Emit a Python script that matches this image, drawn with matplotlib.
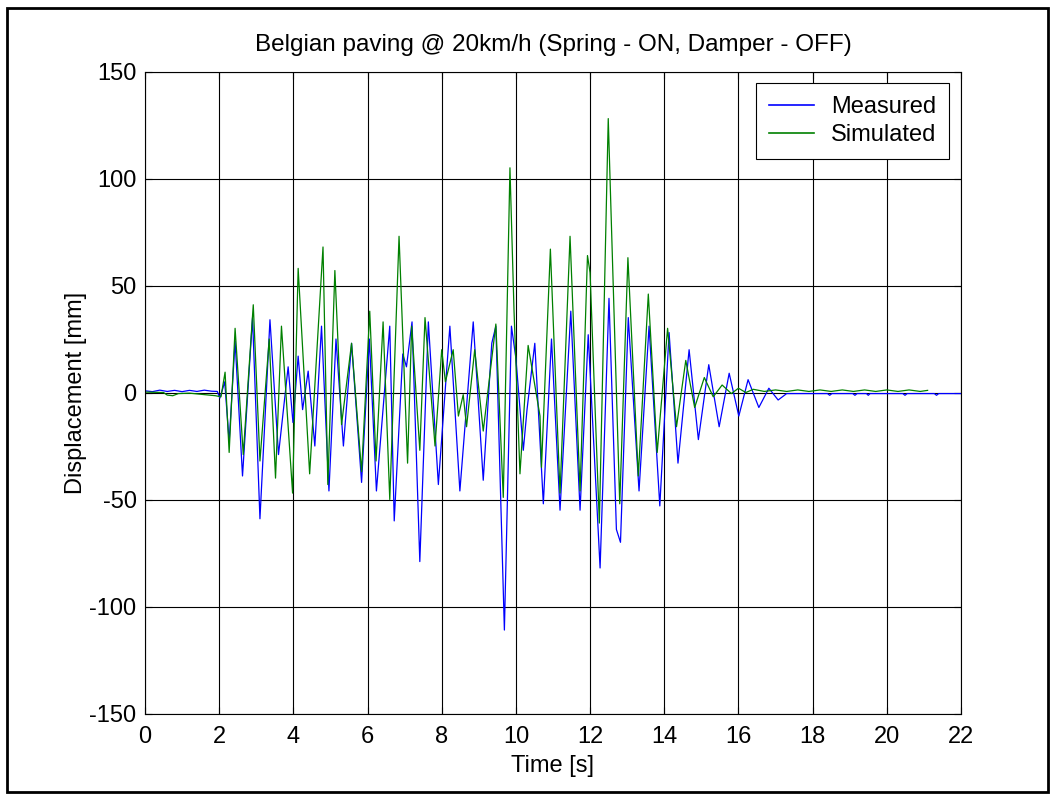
import matplotlib
matplotlib.use("Agg")
import matplotlib.pyplot as plt
from matplotlib.patches import Rectangle

plt.rcParams['font.family'] = ['Liberation Sans', 'DejaVu Sans']
plt.rcParams['font.size'] = 17
plt.rcParams['axes.unicode_minus'] = False

# turning points: time [s], displacement [mm]
t_meas = [0.0, 0.2, 0.4, 0.6, 0.8, 1.0, 1.2, 1.4, 1.6, 1.8, 1.95,
          2.02, 2.1, 2.15, 2.27, 2.43, 2.63, 2.90, 3.10, 3.37, 3.60, 3.86,
          3.99, 4.13, 4.25, 4.40, 4.58, 4.76, 4.96, 5.15, 5.35, 5.57, 5.84,
          6.05, 6.24, 6.60, 6.72, 6.95, 7.05, 7.20, 7.41, 7.64, 7.91, 8.22,
          8.49, 8.85, 9.12, 9.35, 9.46, 9.69, 9.88, 10.0, 10.2, 10.3, 10.51,
          10.74, 10.96, 11.19, 11.48, 11.73, 11.95, 12.27, 12.51, 12.71,
          12.82, 13.03, 13.32, 13.59, 13.88, 14.13, 14.37, 14.67, 14.92,
          15.2, 15.48, 15.75, 16.01, 16.26, 16.55, 16.82, 17.07, 17.3,
          18.4, 18.46, 18.52, 19.08, 19.14, 19.2, 19.45, 19.5, 19.55,
          20.43, 20.49, 20.55, 21.28, 21.34, 21.4, 22.0]
v_meas = [0.8, 0.4, 1.1, 0.5, 1.0, 0.4, 1.0, 0.5, 1.1, 0.6, 0.5,
          -2.6, 2.0, 5.0, -23, 24, -39, 35, -59, 34, -29, 12,
          -14, 17, -8, 10, -25, 31, -46, 25, -25, 23, -42,
          25, -46, 31, -60, 18, 12, 33, -79, 33, -43, 31,
          -46, 33, -41, 23, 31, -111, 31, 16, -27, -8, 23,
          -52, 25, -55, 38, -55, 27, -82, 44, -64,
          -70, 35, -46, 31, -53, 28, -33, 20, -22,
          13, -16, 9, -11, 6, -7, 2, -3.5, -0.5,
          -0.5, -1.3, -0.5, -0.5, -1.3, -0.5, -0.5, -1.3, -0.5,
          -0.5, -1.3, -0.5, -0.5, -1.3, -0.5, -0.5]

t_sim = [0.0, 0.5, 0.6, 0.75, 0.9, 1.2, 1.9, 2.05, 2.16, 2.27, 2.43,
         2.65, 2.92, 3.10, 3.35, 3.52, 3.68, 3.98, 4.13, 4.44, 4.80, 4.93,
         5.12, 5.30, 5.57, 5.84, 6.06, 6.23, 6.42, 6.60, 6.85, 7.08, 7.19,
         7.41, 7.55, 7.82, 8.0, 8.1, 8.31, 8.45, 8.58, 8.67, 8.89, 9.12,
         9.46, 9.66, 9.84, 9.95, 10.11, 10.33, 10.65, 10.69, 10.93, 11.19,
         11.46, 11.73, 11.93, 12.0, 12.25, 12.49, 12.8, 13.02, 13.3, 13.57,
         13.81, 14.09, 14.33, 14.58, 14.82, 15.08, 15.32, 15.56, 15.81,
         16.0, 16.2, 16.4, 16.7, 17.0, 17.3, 17.6, 17.9, 18.2, 18.5, 18.8,
         19.1, 19.4, 19.7, 20.0, 20.3, 20.6, 20.9, 21.1]
v_sim = [0.2, 0.0, -1.2, -1.5, -0.5, -0.3, -1.5, -2.0, 9.5, -28, 30,
         -29, 41, -32, 25, -40, 31, -47, 58, -38, 68, -43,
         57, -15, 23, -37, 38, -32, 33, -50, 73, -33, 31,
         -27, 35, -25, 20, 5, 20, -11, -1, -16, 20, -18,
         32, -49, 105, 38, -38, 22, -11, -35, 67, -47,
         73, -46, 64, 56, -61, 128, -52, 63, -39, 46,
         -28, 30, -16, 15, -7, 7, -2, 3.5, -0.5,
         2.0, 0.0, 1.5, 0.5, 1.2, 0.5, 1.2, 0.5, 1.2, 0.5, 1.2,
         0.5, 1.2, 0.5, 1.2, 0.5, 1.2, 0.5, 1.0]

fig = plt.figure(figsize=(10.55, 7.99), dpi=100)
ax = fig.add_axes([0.1374, 0.107, 0.7735, 0.8035])

ax.plot(t_meas, v_meas, color='#0000ff', lw=0.9, label='Measured')
ax.plot(t_sim, v_sim, color='#008000', lw=0.9, label='Simulated')

ax.set_xlim(0, 22)
ax.set_ylim(-150, 150)
ax.set_xticks(range(0, 23, 2))
ax.set_yticks(range(-150, 151, 50))
ax.grid(True, color='k', lw=0.8, ls='-')
ax.tick_params(direction='in', length=5, width=0.8, top=True, right=True)
ax.tick_params(axis='x', pad=9)
ax.tick_params(axis='y', pad=6)
for s in ax.spines.values():
    s.set_linewidth(0.8)

ax.set_title('Belgian paving @ 20km/h (Spring - ON, Damper - OFF)', pad=15,
             fontsize=17.5)
ax.set_xlabel('Time [s]', labelpad=5)
ax.set_ylabel('Displacement [mm]', labelpad=2)

leg = ax.legend(loc='upper right', fancybox=False, framealpha=1,
                edgecolor='k', borderaxespad=0.5, borderpad=0.55,
                handlelength=1.9, handletextpad=0.7, labelspacing=0.25)
leg.get_frame().set_linewidth(0.8)
for h in leg.get_lines():
    h.set_linewidth(1.2)

# outer frame around the whole figure
fig.patches.append(Rectangle((0.007, 0.009), 0.986, 0.981, transform=fig.transFigure,
                             fill=False, edgecolor='k', lw=2))

fig.savefig('out.png', dpi=100)
